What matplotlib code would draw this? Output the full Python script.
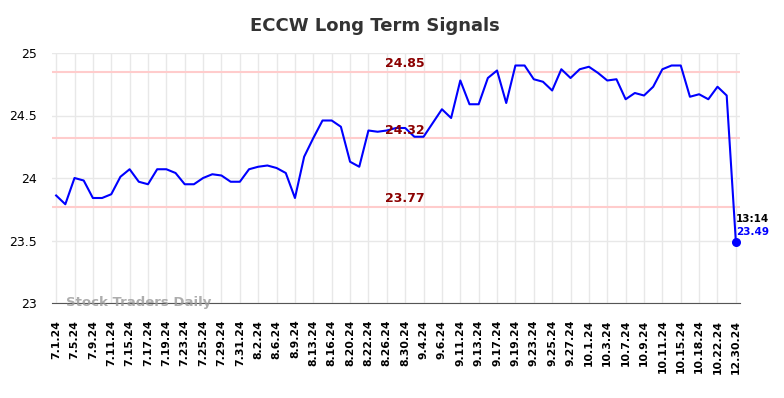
import numpy as np
import matplotlib
matplotlib.use("Agg")
import matplotlib.pyplot as plt

# tick labels (one per two points)
tickLabels = ["7.1.24", "7.5.24", "7.9.24", "7.11.24", "7.15.24", "7.17.24", "7.19.24",
              "7.23.24", "7.25.24", "7.29.24", "7.31.24", "8.2.24", "8.6.24", "8.9.24",
              "8.13.24", "8.16.24", "8.20.24", "8.22.24", "8.26.24", "8.30.24", "9.4.24",
              "9.6.24", "9.11.24", "9.13.24", "9.17.24", "9.19.24", "9.23.24", "9.25.24",
              "9.27.24", "10.1.24", "10.3.24", "10.7.24", "10.9.24", "10.11.24", "10.15.24",
              "10.18.24", "10.22.24", "12.30.24"]

# closing prices
prices = [23.86, 23.79, 24.00, 23.98, 23.84, 23.84, 23.87, 24.01, 24.07, 23.97,
          23.95, 24.07, 24.07, 24.04, 23.95, 23.95, 24.00, 24.03, 24.02, 23.97,
          23.97, 24.07, 24.09, 24.10, 24.08, 24.04, 23.84, 24.17, 24.32, 24.46,
          24.46, 24.41, 24.13, 24.09, 24.38, 24.37, 24.38, 24.40, 24.40, 24.33,
          24.33, 24.44, 24.55, 24.48, 24.78, 24.59, 24.59, 24.80, 24.86, 24.60,
          24.90, 24.90, 24.79, 24.77, 24.70, 24.87, 24.80, 24.87, 24.89, 24.84,
          24.78, 24.79, 24.63, 24.68, 24.66, 24.73, 24.87, 24.90, 24.90, 24.65,
          24.67, 24.63, 24.73, 24.66, 23.49]

# signal levels
levels = [24.85, 24.32, 23.77]
lastTime = "13:14"

fig = plt.figure(figsize=(7.84, 3.98), dpi=100)
ax = fig.add_axes([52/784, 1 - 303/398, 688/784, 250/398])

x = np.arange(len(prices))
for lvl in levels:
  ax.axhline(lvl, color='#ffcccc', lw=1.5, zorder=1)
  ax.text(38, lvl + 0.01, "%.2f" % lvl, color='#8b0000', fontsize=9, fontweight='bold',
          ha='center', va='bottom', zorder=3)

ax.plot(x, prices, color='#0000ff', lw=1.5, zorder=2)
ax.scatter([x[-1]], [prices[-1]], color='#0000ff', s=30, zorder=4)
ax.text(x[-1], prices[-1] + 0.14, lastTime, fontsize=7.5, fontweight='bold', color='black',
        ha='left', va='bottom')
ax.text(x[-1], prices[-1] + 0.04, "%.2f" % prices[-1], fontsize=7.5, fontweight='bold',
        color='#0000ff', ha='left', va='bottom')

ax.set_xlim(-0.45, len(prices) - 0.55)
ax.set_ylim(23, 25)
ax.set_xticks(np.arange(0, len(prices), 2))
ax.set_xticklabels(tickLabels, rotation=90, fontsize=7.8, fontweight='bold')
ax.set_yticks([23, 23.5, 24, 24.5, 25])
ax.set_yticklabels(["23", "23.5", "24", "24.5", "25"], fontsize=9)
ax.tick_params(axis='x', length=0, pad=12)
ax.tick_params(axis='y', length=0, pad=11)
ax.grid(True, color='#e8e8e8', lw=1)
ax.set_axisbelow(True)
for s in ['top', 'right', 'left']:
  ax.spines[s].set_visible(False)
ax.spines['bottom'].set_color('#555555')

ax.text(0.02, 0.002, "Stock Traders Daily", transform=ax.transAxes, fontsize=9.5,
        fontweight='bold', color='#999999', alpha=0.8, va='center', ha='left', zorder=5)

fig.text(375/784, 1 - 26/398, "ECCW Long Term Signals", fontsize=13, fontweight='bold',
         color='#333333', ha='center', va='center')

fig.savefig("out.png", dpi=100)
